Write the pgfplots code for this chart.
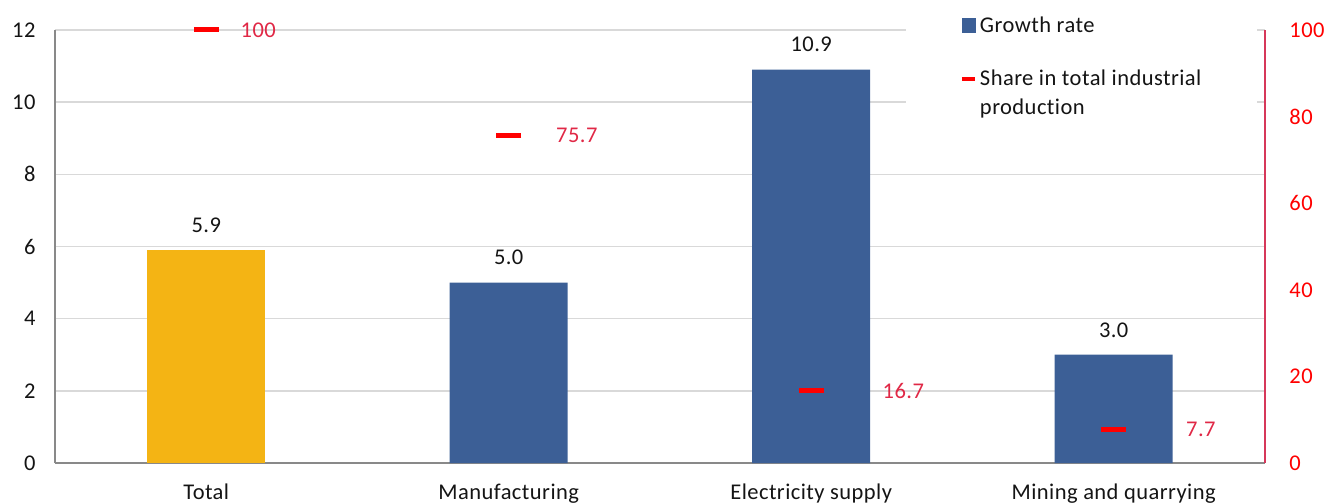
\documentclass[border=0pt]{standalone}
\usepackage{fontspec}
\setmainfont{Carlito}[LetterSpace=2, Ligatures=NoCommon]
\usepackage{pgfplots}
\pgfplotsset{compat=1.18}

\definecolor{barblue}{RGB}{60,95,150}
\definecolor{bargold}{RGB}{244,180,20}
\definecolor{gridgray}{RGB}{217,217,217}
\definecolor{axisgray}{RGB}{137,137,137}
\definecolor{sharered}{RGB}{255,0,0}
\definecolor{labelred}{RGB}{224,40,70}
\definecolor{rightaxis}{RGB}{214,56,90}
\definecolor{txt}{RGB}{20,20,20}

\newcommand{\chartfont}{\fontsize{22.5bp}{29bp}\selectfont}

% share in total industrial production, with the label offset of each value
\pgfplotstableread{
x y dx
0 100 32
1 75.7 45
2 16.7 69
3 7.7 70
}\sharetab

\begin{document}
\begin{tikzpicture}
\begin{axis}[
  scale only axis, width=1210bp, height=433bp,
  xmin=-0.5, xmax=3.5, ymin=0, ymax=12,
  ytick={0,2,...,12},
  xtick={0,1,2,3},
  xticklabels={Total, Manufacturing, Electricity supply, Mining and quarrying},
  axis x line*=bottom, axis y line*=left,
  axis line style={axisgray, line width=1.5bp, -},
  major tick length=0pt,
  ymajorgrids, grid style={gridgray, line width=1.5bp},
  /pgf/number format/assume math mode=true,
  tick label style={font=\chartfont, txt},
  yticklabel style={xshift=-16bp},
  xticklabel style={yshift=-17bp},
  clip=false,
]
\addplot[ybar, bar width=0.39, bar shift=0pt, fill=bargold, draw=none,
  nodes near coords, nodes near coords style={font=\chartfont, txt, yshift=14bp,
  /pgf/number format/.cd, fixed, fixed zerofill, precision=1}]
  coordinates {(0,5.9)};
\addplot[ybar, bar width=0.39, bar shift=0pt, fill=barblue, draw=none,
  nodes near coords, nodes near coords style={font=\chartfont, txt, yshift=14bp,
  /pgf/number format/.cd, fixed, fixed zerofill, precision=1}]
  coordinates {(1,5.0) (2,10.9) (3,3.0)};
\end{axis}

\begin{axis}[
  scale only axis, width=1210bp, height=433bp,
  xmin=-0.5, xmax=3.5, ymin=0, ymax=100,
  axis x line=none, axis y line*=right,
  axis line style={rightaxis, line width=1.5bp, -},
  ytick={0,20,...,100}, major tick length=0pt,
  /pgf/number format/assume math mode=true,
  yticklabel style={font=\chartfont, sharered, xshift=21bp},
  clip=false,
  legend cell align=left,
  legend style={at={(0.703,1.058)}, anchor=north west, draw=none, fill=white,
    font=\chartfont, text=txt, inner xsep=54bp, inner ysep=10bp,
    row sep=32bp, cells={align=left}},
]
\addlegendimage{legend image code/.code={
  \fill[barblue] (0bp,-7bp) rectangle (13bp,7bp);
  \path (16bp,0bp);}}
\addlegendentry{Growth rate}
\addplot[only marks, mark=-, mark size=12.5bp,
  mark options={sharered, line width=5bp},
  legend image code/.code={
    \draw[sharered, line width=4bp] (0bp,14bp) -- (13bp,14bp);
    \path (16bp,0bp);},
  visualization depends on={\thisrow{dx} \as \dx},
  nodes near coords,
  every node near coord/.append style={anchor=west, inner sep=0pt,
    xshift=\dx bp, font=\chartfont, labelred}]
  table[x=x, y=y] {\sharetab};
\addlegendentry{Share in total industrial\\production}
\end{axis}
\pgfresetboundingbox
\path[use as bounding box] (-55bp,-41bp) rectangle (1271bp,463bp);
\end{tikzpicture}
\end{document}
